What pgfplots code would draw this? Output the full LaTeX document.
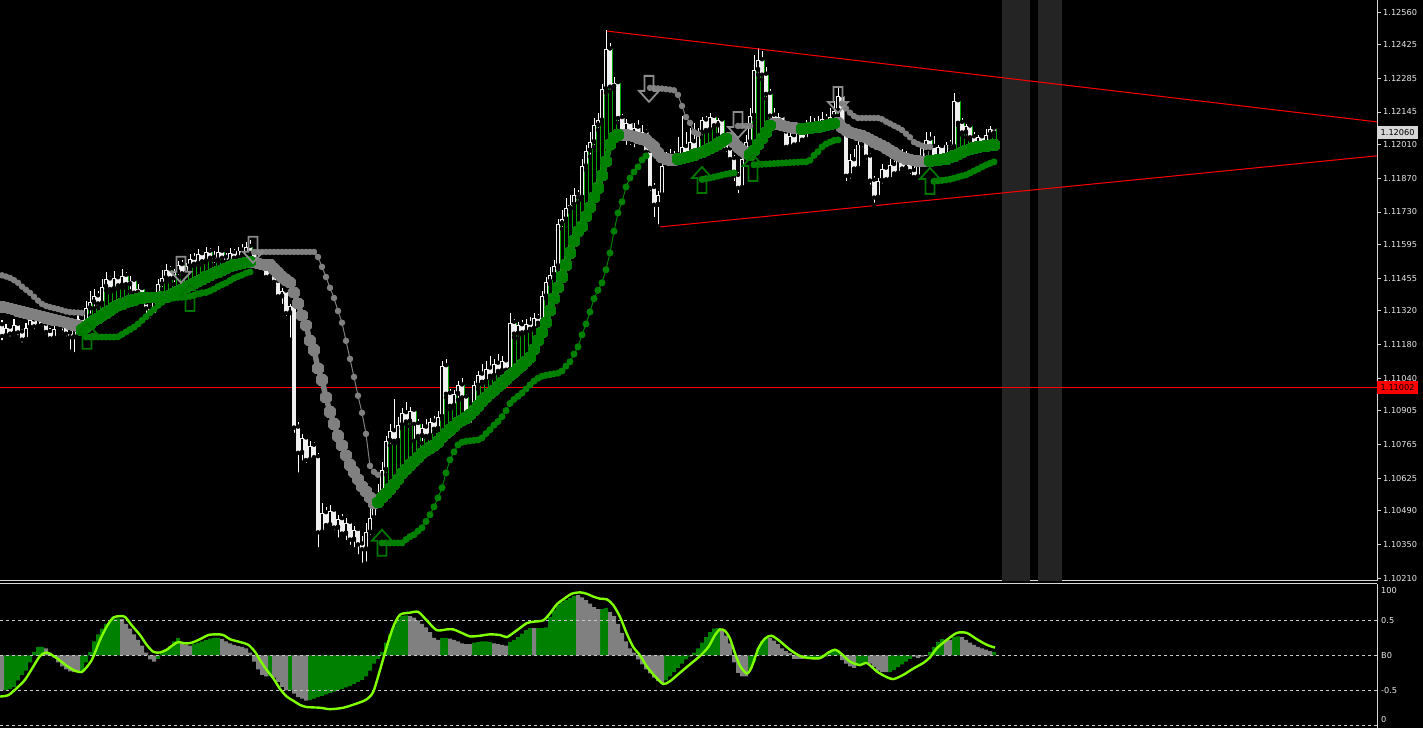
\documentclass[border=0pt]{standalone}
\usepackage{pgfplots}
\pgfplotsset{compat=1.18}
\usepackage{pgfplotstable}
\usepackage{fontspec}
\setmainfont{DejaVu Sans}

\definecolor{mtgreen}{RGB}{0,128,0}
\definecolor{mtgray}{RGB}{128,128,128}
\definecolor{candle}{RGB}{240,240,240}
\definecolor{thingreen}{RGB}{0,165,0}
\definecolor{thingray}{RGB}{120,120,120}
\definecolor{sessionbg}{RGB}{36,36,36}
\definecolor{osc}{RGB}{127,255,0}
\definecolor{frame}{RGB}{214,214,214}
\definecolor{lvl}{RGB}{200,200,200}
\definecolor{arrg}{RGB}{0,118,0}
\definecolor{arry}{RGB}{140,140,140}
\definecolor{tagbg}{RGB}{214,214,214}
\definecolor{labeltext}{RGB}{232,232,232}

\newcommand{\tickfont}{\fontsize{8.2}{9.8}\selectfont}

% signal arrows, tip at the data point
\pgfdeclareplotmark{arrup}{%
  \pgfpathmoveto{\pgfqpoint{0pt}{0pt}}%
  \pgfpathlineto{\pgfqpoint{10pt}{-11pt}}%
  \pgfpathlineto{\pgfqpoint{4.5pt}{-11pt}}%
  \pgfpathlineto{\pgfqpoint{4.5pt}{-26pt}}%
  \pgfpathlineto{\pgfqpoint{-4.5pt}{-26pt}}%
  \pgfpathlineto{\pgfqpoint{-4.5pt}{-11pt}}%
  \pgfpathlineto{\pgfqpoint{-10pt}{-11pt}}%
  \pgfpathclose
  \pgfusepathqstroke}
\pgfdeclareplotmark{arrdn}{%
  \pgfpathmoveto{\pgfqpoint{0pt}{0pt}}%
  \pgfpathlineto{\pgfqpoint{10pt}{11pt}}%
  \pgfpathlineto{\pgfqpoint{4.5pt}{11pt}}%
  \pgfpathlineto{\pgfqpoint{4.5pt}{26pt}}%
  \pgfpathlineto{\pgfqpoint{-4.5pt}{26pt}}%
  \pgfpathlineto{\pgfqpoint{-4.5pt}{11pt}}%
  \pgfpathlineto{\pgfqpoint{-10pt}{11pt}}%
  \pgfpathclose
  \pgfusepathqstroke}

% i: bar, o h l c: prices, a/ta: fast stop and its trend, b/tb: slow stop and its trend,
% hv/hg: oscillator histogram value and colour flag
\pgfplotstableread{
i o h l c a ta b tb hv hg
0 1.11260 1.11280 1.11190 1.11215 1.11336 0 1.11467 0 -0.50 0
1 1.11215 1.11265 1.11200 1.11250 1.11332 0 1.11462 0 -0.50 1
2 1.11250 1.11262 1.11205 1.11225 1.11328 0 1.11456 0 -0.48 1
3 1.11225 1.11285 1.11215 1.11262 1.11324 0 1.11447 0 -0.45 1
4 1.11262 1.11275 1.11210 1.11230 1.11319 0 1.11436 0 -0.36 1
5 1.11230 1.11245 1.11180 1.11200 1.11315 0 1.11420 0 -0.28 1
6 1.11200 1.11270 1.11195 1.11250 1.11311 0 1.11407 0 -0.22 1
7 1.11250 1.11300 1.11240 1.11280 1.11307 0 1.11394 0 -0.10 1
8 1.11280 1.11295 1.11235 1.11255 1.11303 0 1.11378 0 0.05 1
9 1.11255 1.11310 1.11245 1.11290 1.11299 0 1.11362 0 0.12 1
10 1.11290 1.11305 1.11245 1.11262 1.11295 0 1.11348 0 0.12 1
11 1.11262 1.11275 1.11215 1.11232 1.11290 0 1.11340 0 0.10 0
12 1.11232 1.11250 1.11190 1.11205 1.11286 0 1.11335 0 0.04 0
13 1.11205 1.11262 1.11195 1.11245 1.11282 0 1.11331 0 -0.03 0
14 1.11245 1.11300 1.11235 1.11280 1.11278 0 1.11327 0 -0.10 0
15 1.11280 1.11292 1.11230 1.11255 1.11274 0 1.11322 0 -0.16 0
16 1.11255 1.11270 1.11205 1.11225 1.11270 0 1.11317 0 -0.20 0
17 1.11225 1.11245 1.11150 1.11210 1.11265 0 1.11314 0 -0.23 0
18 1.11210 1.11265 1.11140 1.11250 1.11261 0 1.11313 0 -0.24 0
19 1.11250 1.11305 1.11240 1.11285 1.11257 0 1.11312 0 -0.24 0
20 1.11285 1.11300 1.11240 1.11260 1.11240 1 1.11311 0 -0.22 1
21 1.11260 1.11360 1.11250 1.11330 1.11252 1 1.11211 1 -0.10 1
22 1.11330 1.11400 1.11300 1.11355 1.11265 1 1.11211 1 0.05 1
23 1.11355 1.11410 1.11330 1.11380 1.11278 1 1.11211 1 0.20 1
24 1.11380 1.11400 1.11335 1.11350 1.11288 1 1.11211 1 0.30 1
25 1.11350 1.11450 1.11345 1.11420 1.11299 1 1.11211 1 0.38 1
26 1.11420 1.11480 1.11405 1.11450 1.11310 1 1.11211 1 0.45 1
27 1.11450 1.11465 1.11395 1.11410 1.11321 1 1.11211 1 0.48 1
28 1.11410 1.11485 1.11400 1.11455 1.11332 1 1.11211 1 0.52 1
29 1.11455 1.11470 1.11410 1.11425 1.11342 1 1.11212 1 0.53 1
30 1.11425 1.11495 1.11415 1.11465 1.11348 1 1.11222 1 0.52 0
31 1.11465 1.11480 1.11415 1.11430 1.11354 1 1.11232 1 0.45 0
32 1.11430 1.11465 1.11400 1.11445 1.11360 1 1.11242 1 0.38 0
33 1.11445 1.11455 1.11380 1.11395 1.11365 1 1.11252 1 0.30 0
34 1.11395 1.11430 1.11365 1.11410 1.11370 1 1.11265 1 0.22 0
35 1.11410 1.11420 1.11335 1.11350 1.11373 1 1.11280 1 0.14 0
36 1.11350 1.11375 1.11300 1.11330 1.11374 1 1.11295 1 0.04 0
37 1.11330 1.11345 1.11280 1.11300 1.11375 1 1.11311 1 -0.06 0
38 1.11300 1.11390 1.11295 1.11370 1.11376 1 1.11325 1 -0.09 0
39 1.11370 1.11450 1.11355 1.11430 1.11376 1 1.11342 1 -0.05 1
40 1.11430 1.11490 1.11410 1.11455 1.11377 1 1.11355 1 0.05 1
41 1.11455 1.11515 1.11440 1.11490 1.11377 1 1.11366 1 0.08 1
42 1.11490 1.11505 1.11440 1.11455 1.11384 1 1.11370 1 0.13 1
43 1.11455 1.11495 1.11430 1.11480 1.11392 1 1.11373 1 0.20 1
44 1.11480 1.11525 1.11460 1.11510 1.11400 1 1.11375 1 0.25 1
45 1.11510 1.11530 1.11460 1.11475 1.11408 1 1.11376 1 0.19 0
46 1.11475 1.11520 1.11465 1.11505 1.11415 1 1.11377 1 0.15 0
47 1.11505 1.11555 1.11490 1.11535 1.11424 1 1.11380 1 0.14 0
48 1.11535 1.11560 1.11505 1.11515 1.11433 1 1.11384 1 0.16 1
49 1.11515 1.11575 1.11510 1.11555 1.11442 1 1.11390 1 0.18 1
50 1.11555 1.11570 1.11510 1.11525 1.11451 1 1.11394 1 0.20 1
51 1.11525 1.11585 1.11520 1.11565 1.11460 1 1.11396 1 0.22 1
52 1.11565 1.11580 1.11530 1.11540 1.11467 1 1.11402 1 0.24 1
53 1.11540 1.11570 1.11510 1.11530 1.11474 1 1.11410 1 0.25 1
54 1.11530 1.11590 1.11525 1.11565 1.11481 1 1.11420 1 0.25 1
55 1.11565 1.11575 1.11525 1.11540 1.11488 1 1.11428 1 0.23 0
56 1.11540 1.11560 1.11505 1.11525 1.11496 1 1.11435 1 0.20 0
57 1.11525 1.11580 1.11520 1.11560 1.11503 1 1.11445 1 0.17 0
58 1.11560 1.11575 1.11525 1.11540 1.11510 1 1.11455 1 0.15 0
59 1.11540 1.11585 1.11530 1.11570 1.11513 1 1.11462 1 0.13 0
60 1.11570 1.11595 1.11545 1.11555 1.11516 1 1.11468 1 0.12 0
61 1.11555 1.11605 1.11545 1.11585 1.11520 1 1.11476 1 0.10 0
62 1.11585 1.11615 1.11545 1.11560 1.11523 1 1.11481 1 0.04 0
63 1.11560 1.11575 1.11495 1.11510 1.11520 0 1.11564 0 -0.09 0
64 1.11510 1.11555 1.11495 1.11535 1.11517 0 1.11564 0 -0.20 0
65 1.11535 1.11545 1.11480 1.11495 1.11513 0 1.11564 0 -0.28 0
66 1.11495 1.11510 1.11445 1.11460 1.11510 0 1.11564 0 -0.30 0
67 1.11460 1.11500 1.11450 1.11490 1.11510 0 1.11564 0 -0.30 1
68 1.11490 1.11495 1.11425 1.11440 1.11493 0 1.11564 0 -0.32 0
69 1.11440 1.11455 1.11365 1.11380 1.11477 0 1.11564 0 -0.38 0
70 1.11380 1.11415 1.11340 1.11400 1.11460 0 1.11564 0 -0.45 0
71 1.11400 1.11405 1.11290 1.11310 1.11448 0 1.11564 0 -0.50 0
72 1.11310 1.11350 1.11200 1.11340 1.11436 0 1.11564 0 -0.50 1
73 1.11340 1.11350 1.10805 1.10835 1.11395 0 1.11564 0 -0.55 0
74 1.10835 1.10860 1.10640 1.10730 1.11350 0 1.11564 0 -0.60 0
75 1.10730 1.10810 1.10690 1.10790 1.11300 0 1.11564 0 -0.62 0
76 1.10790 1.10800 1.10680 1.10700 1.11260 0 1.11564 0 -0.65 0
77 1.10700 1.10780 1.10690 1.10760 1.11195 0 1.11564 0 -0.64 1
78 1.10760 1.10775 1.10700 1.10712 1.11157 0 1.11564 0 -0.62 1
79 1.10712 1.10730 1.10330 1.10400 1.11080 0 1.11543 0 -0.60 1
80 1.10400 1.10520 1.10390 1.10480 1.11033 0 1.11502 0 -0.58 1
81 1.10480 1.10505 1.10415 1.10430 1.10960 0 1.11460 0 -0.56 1
82 1.10430 1.10515 1.10420 1.10490 1.10900 0 1.11415 0 -0.54 1
83 1.10490 1.10500 1.10400 1.10420 1.10850 0 1.11373 0 -0.52 1
84 1.10420 1.10470 1.10370 1.10455 1.10800 0 1.11319 0 -0.50 1
85 1.10455 1.10475 1.10385 1.10395 1.10760 0 1.11270 0 -0.48 1
86 1.10395 1.10460 1.10360 1.10440 1.10720 0 1.11195 0 -0.46 1
87 1.10440 1.10450 1.10340 1.10370 1.10680 0 1.11120 0 -0.44 1
88 1.10370 1.10425 1.10330 1.10410 1.10650 0 1.11045 0 -0.41 1
89 1.10410 1.10420 1.10300 1.10350 1.10620 0 1.10967 0 -0.38 1
90 1.10350 1.10385 1.10265 1.10330 1.10590 0 1.10896 0 -0.35 1
91 1.10330 1.10440 1.10270 1.10400 1.10570 0 1.10809 0 -0.30 1
92 1.10400 1.10520 1.10380 1.10460 1.10545 0 1.10676 0 -0.22 1
93 1.10460 1.10560 1.10450 1.10505 1.10520 0 1.10651 0 -0.12 1
94 1.10505 1.10600 1.10495 1.10560 1.10525 1 1.10639 0 -0.05 1
95 1.10560 1.10690 1.10545 1.10660 1.10545 1 1.10356 1 0.05 1
96 1.10660 1.10800 1.10640 1.10780 1.10560 1 1.10356 1 0.18 1
97 1.10780 1.10850 1.10760 1.10820 1.10580 1 1.10356 1 0.30 1
98 1.10820 1.10955 1.10770 1.10780 1.10600 1 1.10356 1 0.42 1
99 1.10780 1.10880 1.10770 1.10845 1.10620 1 1.10356 1 0.52 1
100 1.10845 1.10915 1.10830 1.10895 1.10645 1 1.10356 1 0.56 1
101 1.10895 1.10940 1.10850 1.10860 1.10660 1 1.10370 1 0.57 1
102 1.10860 1.10920 1.10840 1.10905 1.10680 1 1.10382 1 0.56 0
103 1.10905 1.10915 1.10780 1.10850 1.10695 1 1.10390 1 0.54 0
104 1.10850 1.10870 1.10790 1.10800 1.10710 1 1.10405 1 0.50 0
105 1.10800 1.10850 1.10770 1.10835 1.10728 1 1.10419 1 0.45 0
106 1.10835 1.10870 1.10795 1.10800 1.10740 1 1.10445 1 0.40 0
107 1.10800 1.10875 1.10790 1.10860 1.10750 1 1.10473 1 0.33 0
108 1.10860 1.10885 1.10815 1.10830 1.10760 1 1.10506 1 0.25 0
109 1.10830 1.10905 1.10820 1.10880 1.10775 1 1.10543 1 0.22 0
110 1.10880 1.11110 1.10870 1.11090 1.10795 1 1.10585 1 0.25 1
111 1.11090 1.11120 1.10960 1.10975 1.10810 1 1.10647 1 0.25 1
112 1.10975 1.10995 1.10910 1.10925 1.10825 1 1.10701 1 0.24 0
113 1.10925 1.10990 1.10915 1.10975 1.10840 1 1.10734 1 0.22 0
114 1.10975 1.11030 1.10950 1.11010 1.10855 1 1.10763 1 0.20 0
115 1.11010 1.11040 1.10950 1.10960 1.10865 1 1.10774 1 0.17 0
116 1.10960 1.10975 1.10830 1.10845 1.10875 1 1.10778 1 0.16 0
117 1.10845 1.10930 1.10835 1.10920 1.10888 1 1.10780 1 0.16 0
118 1.10920 1.11030 1.10900 1.11010 1.10905 1 1.10782 1 0.18 1
119 1.11010 1.11070 1.10995 1.11055 1.10925 1 1.10784 1 0.19 1
120 1.11055 1.11100 1.11015 1.11025 1.10945 1 1.10792 1 0.20 1
121 1.11025 1.11110 1.11020 1.11080 1.10960 1 1.10810 1 0.20 1
122 1.11080 1.11130 1.11040 1.11050 1.10975 1 1.10826 1 0.19 1
123 1.11050 1.11120 1.11040 1.11100 1.10990 1 1.10845 1 0.17 0
124 1.11100 1.11140 1.11060 1.11070 1.11005 1 1.10860 1 0.16 0
125 1.11070 1.11130 1.11060 1.11110 1.11020 1 1.10880 1 0.15 0
126 1.11110 1.11120 1.11060 1.11075 1.11035 1 1.10905 1 0.14 0
127 1.11075 1.11310 1.11065 1.11270 1.11050 1 1.10935 1 0.19 1
128 1.11270 1.11285 1.11210 1.11225 1.11065 1 1.10952 1 0.22 1
129 1.11225 1.11275 1.11205 1.11260 1.11080 1 1.10965 1 0.26 1
130 1.11260 1.11280 1.11220 1.11230 1.11095 1 1.10978 1 0.31 1
131 1.11230 1.11285 1.11225 1.11265 1.11110 1 1.10995 1 0.36 1
132 1.11265 1.11295 1.11235 1.11245 1.11125 1 1.11012 1 0.39 1
133 1.11245 1.11310 1.11240 1.11290 1.11160 1 1.11028 1 0.39 0
134 1.11290 1.11305 1.11255 1.11270 1.11195 1 1.11040 1 0.39 1
135 1.11270 1.11400 1.11265 1.11380 1.11230 1 1.11048 1 0.39 1
136 1.11380 1.11460 1.11370 1.11440 1.11270 1 1.11052 1 0.40 1
137 1.11440 1.11500 1.11430 1.11470 1.11320 1 1.11055 1 0.55 1
138 1.11470 1.11530 1.11455 1.11505 1.11370 1 1.11058 1 0.65 1
139 1.11505 1.11700 1.11495 1.11680 1.11415 1 1.11061 1 0.72 1
140 1.11680 1.11740 1.11660 1.11700 1.11460 1 1.11070 1 0.76 1
141 1.11700 1.11790 1.11690 1.11745 1.11510 1 1.11090 1 0.79 1
142 1.11745 1.11800 1.11730 1.11760 1.11560 1 1.11108 1 0.82 1
143 1.11760 1.11830 1.11745 1.11800 1.11610 1 1.11140 1 0.85 1
144 1.11800 1.11820 1.11770 1.11790 1.11650 1 1.11170 1 0.86 0
145 1.11790 1.11950 1.11780 1.11920 1.11670 1 1.11220 1 0.83 0
146 1.11920 1.12010 1.11905 1.11985 1.11710 1 1.11265 1 0.79 0
147 1.11985 1.12060 1.11960 1.12020 1.11750 1 1.11315 1 0.74 0
148 1.12020 1.12120 1.12000 1.12090 1.11790 1 1.11370 1 0.69 0
149 1.12090 1.12140 1.12070 1.12110 1.11830 1 1.11405 1 0.66 0
150 1.12110 1.12260 1.12095 1.12240 1.11880 1 1.11436 1 0.66 1
151 1.12240 1.12485 1.12225 1.12405 1.11940 1 1.11490 1 0.68 1
152 1.12405 1.12430 1.12230 1.12250 1.12010 1 1.11560 1 0.62 0
153 1.12250 1.12290 1.12240 1.12265 1.12040 1 1.11650 1 0.56 0
154 1.12265 1.12275 1.12100 1.12120 1.12050 1 1.11726 1 0.45 0
155 1.12120 1.12135 1.12040 1.12060 1.12050 0 1.11772 1 0.32 0
156 1.12060 1.12115 1.12000 1.12100 1.12050 0 1.11834 1 0.20 0
157 1.12100 1.12110 1.12000 1.12020 1.12046 0 1.11871 1 0.10 0
158 1.12020 1.12100 1.11990 1.12080 1.12042 0 1.11896 1 0.04 0
159 1.12080 1.12110 1.12000 1.12010 1.12037 0 1.11917 1 -0.06 0
160 1.12010 1.12090 1.11995 1.12060 1.12033 0 1.11946 1 -0.13 0
161 1.12060 1.12075 1.11960 1.11980 1.12029 0 1.11963 1 -0.20 0
162 1.11980 1.11995 1.11810 1.11830 1.12015 0 1.12245 0 -0.26 0
163 1.11830 1.11850 1.11700 1.11760 1.12000 0 1.12244 0 -0.32 0
164 1.11760 1.11815 1.11670 1.11800 1.11975 0 1.12243 0 -0.37 0
165 1.11800 1.11945 1.11790 1.11920 1.11955 0 1.12242 0 -0.40 0
166 1.11920 1.11980 1.11905 1.11960 1.11950 0 1.12240 0 -0.36 1
167 1.11960 1.11990 1.11910 1.11925 1.11946 0 1.12238 0 -0.30 1
168 1.11925 1.11985 1.11915 1.11965 1.11946 0 1.12235 0 -0.24 1
169 1.11965 1.12040 1.11925 1.11935 1.11950 1 1.12216 0 -0.18 1
170 1.11935 1.12130 1.11925 1.12000 1.11953 1 1.12170 0 -0.12 1
171 1.12000 1.12060 1.11950 1.11960 1.11956 1 1.12124 0 -0.06 1
172 1.11960 1.12080 1.11955 1.12020 1.11960 1 1.12100 0 -0.02 1
173 1.12020 1.12100 1.11975 1.11985 1.11966 1 1.12062 0 0.04 1
174 1.11985 1.12080 1.11980 1.12060 1.11972 1 1.12054 0 0.10 1
175 1.12060 1.12125 1.12040 1.12110 1.11978 1 1.11865 1 0.18 1
176 1.12110 1.12130 1.12060 1.12070 1.11986 1 1.11868 1 0.26 1
177 1.12070 1.12140 1.12065 1.12125 1.11994 1 1.11871 1 0.33 1
178 1.12125 1.12135 1.12080 1.12090 1.12002 1 1.11875 1 0.38 1
179 1.12090 1.12120 1.12050 1.12110 1.12012 1 1.11879 1 0.39 1
180 1.12110 1.12115 1.12010 1.12030 1.12022 1 1.11883 1 0.36 0
181 1.12030 1.12045 1.11970 1.11990 1.12035 1 1.11887 1 0.28 0
182 1.11990 1.12010 1.11935 1.11950 1.12040 0 1.11890 1 0.17 0
183 1.11950 1.11965 1.11850 1.11880 1.12017 0 1.11892 1 -0.10 0
184 1.11880 1.11895 1.11800 1.11830 1.12000 0 1.12087 0 -0.25 0
185 1.11830 1.11970 1.11820 1.11950 1.11985 0 1.12087 0 -0.30 0
186 1.11950 1.12050 1.11940 1.12020 1.11972 0 1.12087 0 -0.30 0
187 1.12020 1.12160 1.12010 1.12130 1.11967 1 1.12087 0 -0.20 1
188 1.12130 1.12380 1.12115 1.12320 1.11985 1 1.11926 1 -0.09 1
189 1.12320 1.12410 1.12300 1.12360 1.12010 1 1.11927 1 0.10 1
190 1.12360 1.12400 1.12280 1.12300 1.12035 1 1.11928 1 0.20 1
191 1.12300 1.12330 1.12200 1.12220 1.12060 1 1.11929 1 0.25 1
192 1.12220 1.12240 1.12110 1.12130 1.12090 1 1.11930 1 0.25 0
193 1.12130 1.12160 1.12080 1.12090 1.12098 0 1.11931 1 0.21 0
194 1.12090 1.12140 1.12080 1.12125 1.12095 0 1.11932 1 0.16 0
195 1.12125 1.12130 1.12050 1.12060 1.12090 0 1.11933 1 0.10 0
196 1.12060 1.12090 1.11990 1.12000 1.12086 0 1.11934 1 0.06 0
197 1.12000 1.12060 1.11990 1.12045 1.12082 0 1.11935 1 0.03 0
198 1.12045 1.12055 1.11995 1.12010 1.12079 0 1.11936 1 -0.05 0
199 1.12010 1.12075 1.12000 1.12060 1.12076 0 1.11937 1 -0.05 0
200 1.12060 1.12100 1.12020 1.12030 1.12074 1 1.11938 1 -0.05 0
201 1.12030 1.12110 1.12025 1.12085 1.12076 1 1.11938 1 -0.05 1
202 1.12085 1.12130 1.12045 1.12055 1.12078 1 1.11945 1 -0.05 1
203 1.12055 1.12120 1.12045 1.12095 1.12080 1 1.11965 1 -0.04 1
204 1.12095 1.12130 1.12055 1.12065 1.12083 1 1.11980 1 -0.04 1
205 1.12065 1.12145 1.12060 1.12115 1.12086 1 1.12000 1 -0.03 1
206 1.12115 1.12135 1.12075 1.12085 1.12089 1 1.12012 1 -0.02 1
207 1.12085 1.12160 1.12080 1.12125 1.12092 1 1.12020 1 0.05 1
208 1.12125 1.12190 1.12110 1.12150 1.12096 1 1.12027 1 0.08 1
209 1.12150 1.12250 1.12130 1.12210 1.12100 0 1.12029 1 0.07 1
210 1.12210 1.12225 1.12060 1.12080 1.12080 0 1.12180 0 -0.07 0
211 1.12080 1.12090 1.11850 1.11880 1.12070 0 1.12160 0 -0.12 0
212 1.11880 1.11970 1.11860 1.11945 1.12060 0 1.12142 0 -0.16 0
213 1.11945 1.11990 1.11900 1.11910 1.12055 0 1.12128 0 -0.18 0
214 1.11910 1.12030 1.11905 1.12010 1.12050 0 1.12120 0 -0.15 1
215 1.12010 1.12070 1.11990 1.12040 1.12045 0 1.12120 0 -0.12 1
216 1.12040 1.12050 1.11940 1.11960 1.12040 0 1.12120 0 -0.10 1
217 1.11960 1.11975 1.11835 1.11860 1.12030 0 1.12120 0 -0.12 0
218 1.11860 1.11880 1.11760 1.11790 1.12020 0 1.12120 0 -0.17 0
219 1.11790 1.11870 1.11780 1.11860 1.12012 0 1.12120 0 -0.22 0
220 1.11860 1.11930 1.11840 1.11910 1.12005 0 1.12115 0 -0.24 0
221 1.11910 1.11920 1.11850 1.11865 1.11995 0 1.12105 0 -0.24 0
222 1.11865 1.11950 1.11860 1.11925 1.11985 0 1.12097 0 -0.24 1
223 1.11925 1.11940 1.11880 1.11890 1.11975 0 1.12088 0 -0.21 1
224 1.11890 1.11960 1.11885 1.11945 1.11965 0 1.12080 0 -0.17 1
225 1.11945 1.11990 1.11900 1.11910 1.11955 0 1.12070 0 -0.13 1
226 1.11910 1.11985 1.11900 1.11960 1.11950 0 1.12055 0 -0.09 1
227 1.11960 1.11965 1.11880 1.11900 1.11947 0 1.12040 0 -0.05 1
228 1.11900 1.11925 1.11860 1.11875 1.11944 0 1.12020 0 -0.02 0
229 1.11875 1.11955 1.11870 1.11935 1.11942 0 1.12012 0 -0.04 0
230 1.11935 1.12010 1.11920 1.11995 1.11940 0 1.12005 0 -0.02 0
231 1.11995 1.12060 1.11980 1.12030 1.11940 0 1.12000 0 -0.01 0
232 1.12030 1.12060 1.11990 1.12000 1.11942 1 1.12000 0 0.05 1
233 1.12000 1.12045 1.11930 1.11950 1.11944 1 1.11857 1 0.12 1
234 1.11950 1.12010 1.11940 1.12000 1.11946 1 1.11859 1 0.19 1
235 1.12000 1.12005 1.11950 1.11960 1.11948 1 1.11861 1 0.23 1
236 1.11960 1.12020 1.11955 1.12010 1.11950 1 1.11863 1 0.22 0
237 1.12010 1.12030 1.11985 1.12000 1.11955 1 1.11866 1 0.22 0
238 1.12000 1.12225 1.11990 1.12190 1.11962 1 1.11870 1 0.26 1
239 1.12190 1.12205 1.12090 1.12100 1.11970 1 1.11875 1 0.27 1
240 1.12100 1.12120 1.12050 1.12060 1.11978 1 1.11880 1 0.26 0
241 1.12060 1.12095 1.12040 1.12085 1.11985 1 1.11884 1 0.22 0
242 1.12085 1.12095 1.12030 1.12040 1.11990 1 1.11892 1 0.18 0
243 1.12040 1.12060 1.11995 1.12010 1.11995 1 1.11900 1 0.15 0
244 1.12010 1.12050 1.11980 1.12040 1.12000 1 1.11908 1 0.12 0
245 1.12040 1.12050 1.11985 1.12000 1.12002 1 1.11917 1 0.10 0
246 1.12000 1.12075 1.11995 1.12050 1.12004 1 1.11925 1 0.08 0
247 1.12050 1.12085 1.12040 1.12075 1.12006 1 1.11932 1 0.06 0
248 1.12075 1.12085 1.12045 1.12060 1.12008 1 1.11938 1 0.05 1
}\bars

\begin{document}
\begin{tikzpicture}
\fill[black] (0,0) rectangle (1423pt,728pt);
\path[use as bounding box] (0,0) rectangle (1423pt,728pt);

% ---------------- price window ----------------
\begin{axis}[
  at={(0pt,147pt)}, anchor=south west, scale only axis,
  width=1377pt, height=581pt,
  xmin=-0.5, xmax=343.75, ymin=1.10198, ymax=1.12610,
  axis x line*=bottom, axis y line*=right,
  axis line style={frame, line width=1pt},
  xtick=\empty,
  ytick={1.10210,1.10350,1.10490,1.10625,1.10765,1.10905,1.11040,1.11180,1.11320,1.11455,1.11595,1.11730,1.11870,1.12010,1.12145,1.12285,1.12425,1.12560},
  yticklabels={1.10210,1.10350,1.10490,1.10625,1.10765,1.10905,1.11040,1.11180,1.11320,1.11455,1.11595,1.11730,1.11870,1.12010,1.12145,1.12285,1.12425,1.12560},
  tick align=outside, major tick length=4pt,
  tick style={frame, line width=0.8pt},
  yticklabel style={font=\tickfont, text=labeltext, inner sep=0pt, xshift=2pt},
  clip=false, unbounded coords=jump,
]
% session shading
\addplot[color=sessionbg, line width=28pt, forget plot] coordinates {(253.5,1.10198) (253.5,1.12610)};
\addplot[color=sessionbg, line width=24pt, forget plot] coordinates {(262,1.10198) (262,1.12610)};
% horizontal level
\addplot[red, line width=1pt] coordinates {(-0.5,1.11002) (343.75,1.11002)};

% thin trend columns from the fast stop up to the body
\addplot[only marks, mark=none, error bars/.cd, y dir=plus, y explicit, error mark=none,
  error bar style={line width=1pt, color=thingreen}]
  table[x expr=\thisrow{i}+0.5, y=a,
        y error plus expr={\thisrow{ta}*max(0,max(\thisrow{o},\thisrow{c})-\thisrow{a})}] {\bars};
\addplot[only marks, mark=none, error bars/.cd, y dir=plus, y explicit, error mark=none,
  error bar style={line width=1pt, color=thingray}]
  table[x expr=\thisrow{i}+0.5, y=a,
        y error plus expr={(1-\thisrow{ta})*max(0,max(\thisrow{o},\thisrow{c})-\thisrow{a})}] {\bars};

% candles: wicks, bodies, hollow interior of rising bars
\addplot[only marks, mark=none, error bars/.cd, y dir=plus, y explicit, error mark=none,
  error bar style={line width=1pt, color=white}]
  table[x=i, y=l, y error plus expr={\thisrow{h}-\thisrow{l}}] {\bars};
\addplot[only marks, mark=none, error bars/.cd, y dir=plus, y explicit, error mark=none,
  error bar style={line width=3.2pt, color=candle}]
  table[x=i, y expr={min(\thisrow{o},\thisrow{c})}, y error plus expr={abs(\thisrow{c}-\thisrow{o})}] {\bars};
\addplot[only marks, mark=none, error bars/.cd, y dir=plus, y explicit, error mark=none,
  error bar style={line width=1.1pt, color=black}]
  table[x=i, y expr={\thisrow{o}+0.00004}, y error plus expr={max(0,\thisrow{c}-\thisrow{o}-0.00008)}] {\bars};

% triangle trendlines
\addplot[red, line width=1pt] coordinates {(151.25,1.12481) (343.75,1.12104)};
\addplot[red, line width=1pt] coordinates {(164.5,1.11668) (343.75,1.11963)};

% fast stop line
\addplot[mtgray, line width=5.5pt, line join=bevel, mark=square*, mark size=2.9pt,
  mark options={draw=none, fill=mtgray}] table[x=i, y=a] {\bars};
\addplot[mtgreen, line width=5.5pt, line join=bevel, mark=square*, mark size=2.9pt,
  mark options={draw=none, fill=mtgreen},
  restrict expr to domain={\thisrow{ta}}{0.5:1.5}] table[x=i, y=a] {\bars};

% slow stop dots
\addplot[color=mtgray, line width=1pt, mark=*, mark size=2.7pt,
  mark options={draw=none, fill=mtgray},
  restrict expr to domain={\thisrow{tb}}{-0.5:0.5}] table[x=i, y=b] {\bars};
\addplot[color=mtgreen, line width=1pt, mark=*, mark size=3pt,
  mark options={draw=none, fill=mtgreen},
  restrict expr to domain={\thisrow{tb}}{0.5:1.5}] table[x=i, y=b] {\bars};

% signal arrows
\addplot[only marks, mark=arrup, color=arrg, mark options={line width=1.8pt}]
  coordinates {(21.25,1.11270) (47,1.11427) (95,1.10411) (175,1.11917) (187.75,1.11967) (232,1.11913)};
\addplot[only marks, mark=arrdn, color=arry, mark options={line width=1.8pt}]
  coordinates {(44.75,1.11436) (62.75,1.11519) (161.75,1.12187) (184,1.12037) (209,1.12141)};

% price tags
\node[fill=tagbg, text=black, anchor=west, inner xsep=3.5pt, inner ysep=0pt,
  minimum height=13pt, font=\tickfont] at (axis cs:343.75,1.12060) {1.12060};
\node[fill=red, text=black, anchor=west, inner xsep=3.5pt, inner ysep=0pt,
  minimum height=13pt, font=\tickfont] at (axis cs:343.75,1.11002) {1.11002};
\end{axis}

% ---------------- oscillator window ----------------
\begin{axis}[
  at={(0pt,0pt)}, anchor=south west, scale only axis,
  width=1377pt, height=144pt,
  xmin=-0.5, xmax=343.75, ymin=-1.04, ymax=1.02,
  axis x line*=top, axis y line*=right,
  axis line style={frame, line width=1pt},
  xtick=\empty,
  ytick={0.92,0.5,0,-0.5,-0.92}, yticklabels={100,0.5,B0,-0.5,0},
  major tick length=0pt,
  yticklabel style={font=\tickfont, text=labeltext, inner sep=0pt, xshift=4pt},
  clip=false,
]
\addplot[ybar, bar width=1, bar shift=0pt, fill=mtgreen, draw=none]
  table[x=i, y expr={\thisrow{hv}*\thisrow{hg}}] {\bars};
\addplot[ybar, bar width=1, bar shift=0pt, fill=mtgray, draw=none]
  table[x=i, y expr={\thisrow{hv}*(1-\thisrow{hg})}] {\bars};
\addplot[lvl, line width=0.8pt, dash pattern=on 3pt off 3pt] coordinates {(-0.5,0.5) (343.75,0.5)};
\addplot[lvl, line width=0.8pt, dash pattern=on 3pt off 3pt] coordinates {(-0.5,0) (343.75,0)};
\addplot[lvl, line width=0.8pt, dash pattern=on 3pt off 3pt] coordinates {(-0.5,-0.5) (343.75,-0.5)};
\addplot[lvl, line width=0.8pt, dash pattern=on 3pt off 3pt] coordinates {(-0.5,-1) (343.75,-1)};
\addplot[osc, line width=2.4pt, smooth, tension=0.45] coordinates {
(-0.5,-0.59) (1.58,-0.57) (3.67,-0.47) (5.75,-0.35) (7.83,-0.16) (9.5,-0.01) (11.17,0.04)
(13.67,-0.04) (16.17,-0.15) (18.25,-0.22) (19.92,-0.24) (21.17,-0.17) (22.42,-0.07) (23.25,0.04)
(24.5,0.22) (26.17,0.41) (27.83,0.54) (29.5,0.56) (30.75,0.55) (32.42,0.43) (34.5,0.29)
(36.17,0.15) (37.83,0.05) (39.5,0.04) (41.17,0.08) (42.83,0.15) (44.08,0.19) (45.75,0.17)
(47.42,0.18) (49.5,0.23) (51.58,0.29) (53.67,0.30) (55.33,0.29) (57,0.23) (59.5,0.19)
(61.58,0.15) (63.25,0.05) (64.5,-0.07) (66.17,-0.21) (67.83,-0.33) (69.5,-0.48) (71.17,-0.59)
(72.83,-0.65) (74.5,-0.71) (76.17,-0.74) (79.5,-0.75) (82,-0.77) (85.33,-0.75) (88.67,-0.69)
(91.17,-0.63) (92.83,-0.52) (94.5,-0.21) (96.17,0.12) (97.83,0.41) (99.5,0.58) (102,0.61)
(104.08,0.62) (106.17,0.50) (108.67,0.36) (111.17,0.37) (112.83,0.37) (115.33,0.31) (117,0.27)
(119.5,0.28) (122,0.30) (124.5,0.29) (126.2,0.26) (127.8,0.32) (129.5,0.39) (131.2,0.46)
(132.8,0.48) (135.3,0.50) (137,0.60) (138.7,0.73) (140.3,0.80) (142.4,0.88) (144.5,0.90)
(146.2,0.88) (147.8,0.84) (149.5,0.81) (151.2,0.80) (152.8,0.72) (154.5,0.55) (156.2,0.31)
(157.8,0.12) (159.5,0.00) (161.2,-0.16) (163.25,-0.30) (165.3,-0.41) (167,-0.37) (169.9,-0.23)
(172.4,-0.11) (174.5,-0.01) (176.6,0.12) (178.25,0.29) (179.5,0.37) (180.75,0.35) (182,0.24)
(183.25,0.03) (184.5,-0.15) (186.2,-0.26) (187.4,-0.17) (189.1,0.10) (190.75,0.24) (192.4,0.28)
(194.5,0.20) (197,0.08) (199.5,-0.01) (202,-0.04) (204.5,-0.04) (206.6,0.04) (208.25,0.08)
(209.9,0.02) (212,-0.09) (214.5,-0.14) (216.2,-0.11) (218.7,-0.23) (220.75,-0.30) (222.8,-0.34)
(225.3,-0.28) (227.8,-0.19) (230.3,-0.11) (232,-0.03) (233.7,0.10) (236.2,0.22) (238.7,0.32)
(241.2,0.32) (243.7,0.23) (246.2,0.15) (248.25,0.11)};
\end{axis}
\end{tikzpicture}
\end{document}
